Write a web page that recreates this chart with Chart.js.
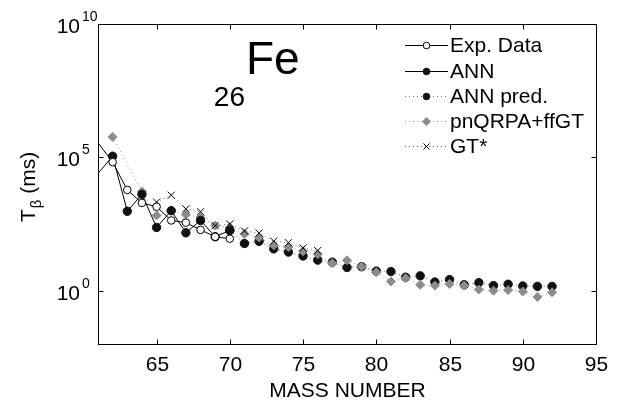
<!DOCTYPE html>
<html><head><meta charset="utf-8">
<script src="https://cdn.jsdelivr.net/npm/chart.js@4/dist/chart.umd.min.js"></script>
<style>html,body{margin:0;padding:0;background:#fff}</style>
</head><body>
<canvas id="c" width="627" height="403" style="display:block;width:627px;height:403px"></canvas>
<script>
// ---- data (half-lives in ms) ----
const expMass  = [61, 62, 63, 64, 65, 66, 67, 68, 69, 70];
const expT     = [3.5e5, 6.6e4, 6.0e3, 1.95e3, 1.4e3, 430, 355, 190, 105, 89];
const annMass  = [61, 62, 63, 64, 65, 66, 67, 68, 69, 70];
const annT     = [2.5e4, 1.1e5, 950, 4.1e3, 235, 1.0e3, 148, 430, 105, 182];
const predMass = [70, 71, 72, 73, 74, 75, 76, 77, 78, 79, 80, 81, 82, 83, 84, 85, 86, 87, 88, 89, 90, 91, 92];
const predT    = [182, 59, 71, 37, 28, 20, 14, 11.7, 7.4, 7.9, 5.4, 5.2, 3.2, 3.6, 2.1, 2.6, 1.66, 2.0, 1.55, 1.74, 1.5, 1.45, 1.45];
const qrpaMass = [62, 64, 65, 66, 67, 68, 69, 70, 71, 72, 73, 74, 75, 76, 77, 78, 79, 80, 81, 82, 83, 84, 85, 86, 87, 88, 89, 90, 91, 92];
const qrpaT    = [5.8e5, 5.2e3, 660, 1.0e3, 710, 560, 275, 240, 135, 98, 50, 43, 30, 23, 10.7, 13.8, 7.9, 4.9, 2.2, 2.95, 1.66, 1.55, 1.78, 1.55, 1.1, 1.0, 1.05, 0.93, 0.58, 0.87];
const gtMass   = [65, 66, 67, 68, 69, 70, 71, 72, 73, 74, 75, 76];
const gtT      = [2.1e3, 3.8e3, 1.17e3, 910, 275, 316, 174, 145, 72, 63, 40, 32];
const xTicks   = [65, 70, 75, 80, 85, 90, 95];
const yTicks   = [0, 5, 10];   // exponents of 10
const legendLabels = ['Exp. Data', 'ANN', 'ANN pred.', 'pnQRPA+ffGT', 'GT*'];

const pts = (m, v) => m.map((x, i) => ({x: x, y: v[i]}));
const FONT = '"Liberation Sans", Arial, Helvetica, sans-serif';
const GRAY = '#8c8c8c';
const DOT = [1, 3];
const edgeR = r => ctx => (ctx.raw && ctx.raw.x <= 61 ? 0 : r);

const overlay = {
  id: 'overlay',
  afterDraw(chart) {
    const ctx = chart.ctx, a = chart.chartArea, xs = chart.scales.x, ys = chart.scales.y;
    ctx.save();
    ctx.strokeStyle = '#000'; ctx.lineWidth = 1; ctx.fillStyle = '#000';
    const L = Math.round(a.left) + 0.5, R = Math.round(a.right) + 0.5, T = Math.round(a.top) + 0.5, B = Math.round(a.bottom) + 0.5;
    ctx.strokeRect(L, T, R - L, B - T);
    // x ticks
    ctx.font = '21px ' + FONT; ctx.textAlign = 'center'; ctx.textBaseline = 'alphabetic';
    xTicks.forEach(v => {
      const px = Math.round(xs.getPixelForValue(v)) + 0.5;
      ctx.beginPath(); ctx.moveTo(px, B); ctx.lineTo(px, B - 5); ctx.moveTo(px, T); ctx.lineTo(px, T + 5); ctx.stroke();
      ctx.fillText(String(v), px, B + 26);
    });
    ctx.fillText('MASS NUMBER', (L + R) / 2, B + 52);
    // y ticks
    yTicks.forEach(e => {
      const py = Math.round(ys.getPixelForValue(Math.pow(10, e))) + 0.5;
      ctx.beginPath(); ctx.moveTo(L, py); ctx.lineTo(L + 5, py); ctx.moveTo(R, py); ctx.lineTo(R - 5, py); ctx.stroke();
      ctx.textAlign = 'right'; ctx.font = '21px ' + FONT;
      ctx.fillText('10', 80, py + 8.5);
      ctx.textAlign = 'left'; ctx.font = '14px ' + FONT;
      ctx.fillText(String(e), 82, py - 3.5);
    });
    // y label
    ctx.save();
    ctx.translate(35, 222); ctx.rotate(-Math.PI / 2);
    ctx.textAlign = 'left';
    ctx.font = '21px ' + FONT; ctx.fillText('T', 0, 0);
    let w = ctx.measureText('T').width;
    ctx.font = '15px ' + FONT; ctx.fillText('\u03B2', w + 1, 6);
    w += ctx.measureText('\u03B2').width + 1;
    ctx.font = '21px ' + FONT; ctx.fillText(' (ms)', w, 0);
    ctx.restore();
    // title
    ctx.textAlign = 'left'; ctx.font = '46px ' + FONT; ctx.fillText('Fe', 246, 74);
    ctx.textAlign = 'right'; ctx.font = '28px ' + FONT; ctx.fillText('26', 245, 106);
    // legend
    const rows = [45, 71, 96, 121, 146];
    const ds = chart.data.datasets;
    [0, 1, 2, 3, 4].forEach((di, k) => {
      const d = ds[di], y = rows[k] + 0.5;
      ctx.save();
      ctx.strokeStyle = d.borderColor; ctx.lineWidth = 1;
      ctx.setLineDash(d.borderDash || []);
      ctx.beginPath(); ctx.moveTo(405, y); ctx.lineTo(448, y); ctx.stroke();
      ctx.restore();
      ctx.save();
      const cx = 426.5;
      ctx.lineWidth = 1;
      if (d.pointStyle === 'circle') {
        ctx.beginPath(); ctx.arc(cx, y, 3.3, 0, Math.PI * 2);
        ctx.fillStyle = d.pointBackgroundColor; ctx.fill();
        ctx.strokeStyle = d.pointBorderColor; ctx.stroke();
      } else if (d.pointStyle === 'rectRot') {
        ctx.beginPath(); ctx.moveTo(cx, y - 4.5); ctx.lineTo(cx + 4.5, y); ctx.lineTo(cx, y + 4.5); ctx.lineTo(cx - 4.5, y); ctx.closePath();
        ctx.fillStyle = d.pointBackgroundColor; ctx.fill();
      } else {
        ctx.strokeStyle = '#000';
        ctx.beginPath(); ctx.moveTo(cx - 3, y - 3); ctx.lineTo(cx + 3, y + 3); ctx.moveTo(cx + 3, y - 3); ctx.lineTo(cx - 3, y + 3); ctx.stroke();
      }
      ctx.restore();
      ctx.fillStyle = '#000'; ctx.textAlign = 'left'; ctx.textBaseline = 'middle';
      ctx.font = '21px ' + FONT; ctx.fillText(legendLabels[k], 450, y + 1);
      ctx.textBaseline = 'alphabetic';
    });
    ctx.restore();
  }
};

new Chart(document.getElementById('c'), {
  type: 'line',
  data: {
    datasets: [
      { label: legendLabels[0], data: pts(expMass, expT), order: 1,
        borderColor: '#000', borderWidth: 1, pointStyle: 'circle', pointRadius: edgeR(3.8),
        pointBackgroundColor: '#fff', pointBorderColor: '#000', pointBorderWidth: 1 },
      { label: legendLabels[1], data: pts(annMass, annT), order: 3,
        borderColor: '#000', borderWidth: 1, pointStyle: 'circle', pointRadius: edgeR(4.2),
        pointBackgroundColor: '#111', pointBorderColor: '#111', pointBorderWidth: 1 },
      { label: legendLabels[2], data: pts(predMass, predT), order: 5,
        borderColor: '#666', borderWidth: 1, borderDash: DOT, pointStyle: 'circle', pointRadius: 4.2,
        pointBackgroundColor: '#111', pointBorderColor: '#111', pointBorderWidth: 1 },
      { label: legendLabels[3], data: pts(qrpaMass, qrpaT), order: 4,
        borderColor: '#999', borderWidth: 1, borderDash: DOT, pointStyle: 'rectRot', pointRadius: 4.5,
        pointBackgroundColor: GRAY, pointBorderColor: GRAY, pointBorderWidth: 1 },
      { label: legendLabels[4], data: pts(gtMass, gtT), order: 2,
        borderColor: '#666', borderWidth: 1, borderDash: DOT, pointStyle: 'crossRot', pointRadius: 5,
        pointBackgroundColor: '#000', pointBorderColor: '#000', pointBorderWidth: 1 }
    ]
  },
  options: {
    responsive: false, animation: false, devicePixelRatio: 1,
    layout: { padding: { left: 98, top: 24, right: 31, bottom: 59 } },
    plugins: { legend: { display: false }, tooltip: { enabled: false } },
    elements: { line: { tension: 0 } },
    scales: {
      x: { type: 'linear', min: 61, max: 95, display: false },
      y: { type: 'logarithmic', min: 1e-2, max: 1e10, display: false }
    }
  },
  plugins: [overlay]
});
</script>
</body></html>
